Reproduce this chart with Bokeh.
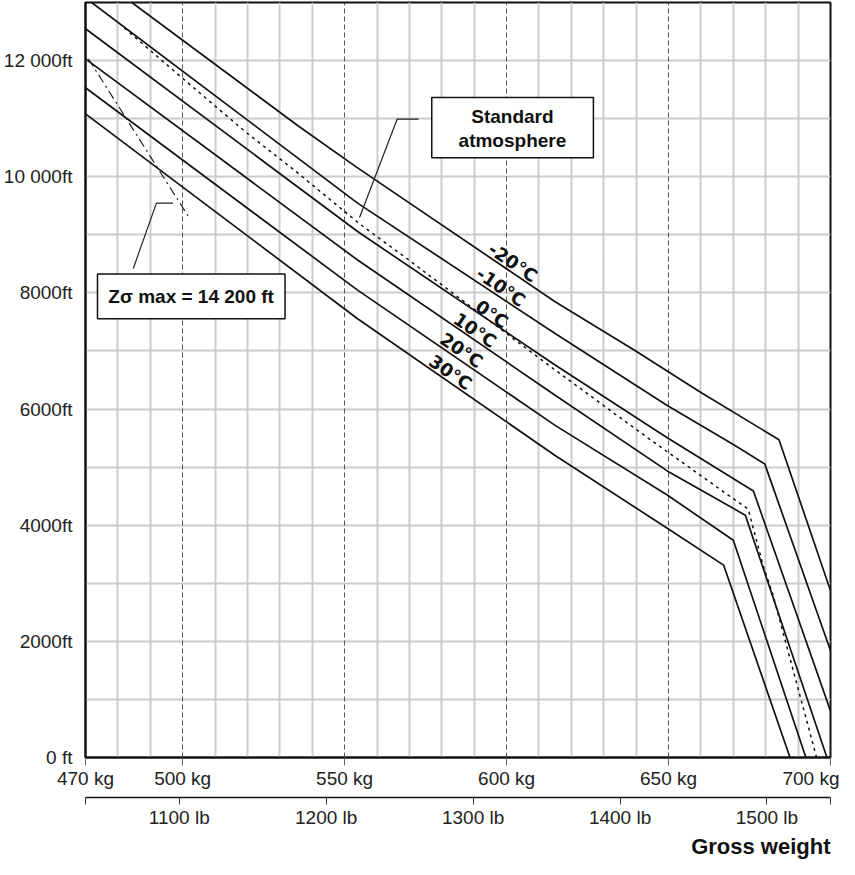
from bokeh.plotting import figure
from bokeh.models import Range1d, LinearAxis, FixedTicker, Label, BoxAnnotation, Grid, Title
from bokeh.embed import file_html
from bokeh.resources import INLINE
from bokeh.core.properties import value

# ---------------- data ----------------
kg_ticks = [470, 500, 550, 600, 650, 700]
kg_labels = ["470 kg", "500 kg", "550 kg", "600 kg", "650 kg", "700 kg"]
lb_ticks = [1100, 1200, 1300, 1400, 1500]
lb_labels = ["1100 lb", "1200 lb", "1300 lb", "1400 lb", "1500 lb"]
ft_ticks = [0, 2000, 4000, 6000, 8000, 10000, 12000]
ft_labels = ["0 ft", "2000ft", "4000ft", "6000ft", "8000ft", "10 000ft", "12 000ft"]

temps = ["-20°C", "-10°C", "0°C", "10°C", "20°C", "30°C"]
m20_kg = [484.3, 535.7, 554.0, 615.1, 639.5, 660.0, 684.1, 700.0]
m20_ft = [13000, 10874, 10152, 7844, 7013, 6286, 5472, 2874]
m10_kg = [471.9, 554.0, 615.1, 649.6, 670.0, 679.7, 700.0]
m10_ft = [13000, 9546, 7295, 6061, 5391, 5056, 1841]
z0_kg = [470.0, 554.0, 615.1, 649.6, 676.2, 700.0]
z0_ft = [12549, 9056, 6753, 5507, 4589, 802]
p10_kg = [470.0, 554.0, 615.1, 649.6, 673.7, 698.9]
p10_ft = [12029, 8566, 6234, 4935, 4173, 0]
p20_kg = [470.0, 554.0, 615.1, 649.6, 670.0, 692.4]
p20_ft = [11532, 8047, 5714, 4519, 3740, 0]
p30_kg = [470.0, 554.0, 615.1, 649.6, 667.0, 687.5]
p30_ft = [11082, 7555, 5195, 3948, 3313, 0]
std_kg = [482.0, 499.0, 519.8, 534.1, 554.9, 569.3, 587.0, 615.1, 643.5, 671.0, 674.6, 679.2, 682.3, 695.7]
std_ft = [12560, 11740, 10753, 10130, 9177, 8588, 7844, 6667, 5507, 4416, 4277, 3307, 2788, 0]
zsig_kg = [470.9, 502.1]
zsig_ft = [12029, 9287]

# temperature label anchors (kg, ft)
temp_lab_kg = [602.0, 598.3, 595.5, 590.3, 586.1, 582.7]
temp_lab_ft = [8525, 8104, 7636, 7359, 7013, 6632]

KG_PER_LB = 0.45359237

p = figure(width=839, height=859, x_range=Range1d(470, 700), y_range=Range1d(0, 13000),
           output_backend="svg", toolbar_location=None,
           min_border_left=77, min_border_right=9, min_border_top=2, min_border_bottom=100)
p.background_fill_color = "white"
p.border_fill_color = "white"
p.outline_line_color = "#111111"
p.outline_line_width = 2

# grids
light_x = [v for v in range(480, 700, 10) if v % 50 != 0]
p.xgrid.ticker = FixedTicker(ticks=light_x)
p.xgrid.grid_line_color = "#cccccc"
p.xgrid.grid_line_width = 2
p.ygrid.ticker = FixedTicker(ticks=list(range(1000, 13000, 1000)))
p.ygrid.grid_line_color = "#cccccc"
p.ygrid.grid_line_width = 2
p.add_layout(Grid(dimension=0, ticker=FixedTicker(ticks=[500, 550, 600, 650]),
                  grid_line_color="#555555", grid_line_dash="5 3", grid_line_width=1))

# y axis
ya = p.yaxis[0]
ya.ticker = FixedTicker(ticks=ft_ticks)
ya.major_label_overrides = {t: l for t, l in zip(ft_ticks, ft_labels)}
ya.major_tick_line_color = None
ya.minor_tick_line_color = None
ya.axis_line_color = "#111111"
ya.axis_line_width = 2
ya.major_label_standoff = 7
ya.major_label_text_font = "Liberation Sans"
ya.major_label_text_font_size = "19px"
ya.major_label_text_color = "#222222"

# kg axis
xa = p.xaxis[0]
xa.ticker = FixedTicker(ticks=kg_ticks)
xa.major_label_overrides = {t: l for t, l in zip(kg_ticks, kg_labels)}
xa.major_tick_out = 8
xa.major_tick_in = 0
xa.major_tick_line_color = "#666666"
xa.minor_tick_line_color = None
xa.axis_line_color = "#111111"
xa.axis_line_width = 2
xa.major_label_standoff = 2
xa.major_label_text_font = "Liberation Sans"
xa.major_label_text_font_size = "19px"
xa.major_label_text_color = "#222222"
xa.axis_label = "\u00a0"
xa.axis_label_text_font_size = "3px"
xa.axis_label_standoff = 0

# lb axis
lb_lo, lb_hi = 470 / KG_PER_LB, 700 / KG_PER_LB
p.extra_x_ranges = {"lb": Range1d(lb_lo, lb_hi)}
lba = LinearAxis(x_range_name="lb")
ends = [lb_lo + 0.05, lb_hi - 0.05]
lba.ticker = FixedTicker(ticks=[ends[0]] + lb_ticks + [ends[1]])
lov = {t: l for t, l in zip(lb_ticks, lb_labels)}
lov[ends[0]] = ""
lov[ends[1]] = ""
lba.major_label_overrides = lov
lba.major_tick_out = 7
lba.major_tick_in = 0
lba.major_tick_line_color = "#333333"
lba.minor_tick_line_color = None
lba.axis_line_color = "#111111"
lba.axis_line_width = 1.5
lba.major_label_standoff = 2
lba.major_label_text_font = "Liberation Sans"
lba.major_label_text_font_size = "19px"
lba.major_label_text_color = "#222222"
p.add_layout(lba, "below")

p.add_layout(Title(text="Gross weight", align="right", text_font="Liberation Sans",
                   text_font_size="22px", text_font_style="bold", text_color="#111111",
                   standoff=2), "below")

# curves
for xs, ys in [(m20_kg, m20_ft), (m10_kg, m10_ft), (z0_kg, z0_ft),
               (p10_kg, p10_ft), (p20_kg, p20_ft), (p30_kg, p30_ft)]:
    p.line(xs, ys, line_color="#111111", line_width=1.7)
p.line(std_kg, std_ft, line_color="#111111", line_width=1.5, line_dash="3 4")
p.line(zsig_kg, zsig_ft, line_color="#222222", line_width=1.2, line_dash="9 4 2 4")

p.text(x=temp_lab_kg, y=temp_lab_ft, text=temps, angle=-0.6,
       text_font=value("DejaVu Sans"), text_font_style="bold", text_font_size="18px",
       text_align="center", text_baseline="middle", text_color="#111111")

# leaders
p.line([572.8, 566.2, 554.6], [10991, 10991, 9299], line_color="#222222", line_width=1.2)
p.line([484.75, 491.9, 497.0], [8421, 9546, 9546], line_color="#222222", line_width=1.2)

# boxes
p.add_layout(BoxAnnotation(left=576.9, right=626.8, bottom=10326, top=11365,
                           fill_color="white", fill_alpha=1, line_color="#111111",
                           line_width=1.5, line_alpha=1))
p.add_layout(BoxAnnotation(left=473.7, right=531.6, bottom=7555, top=8324,
                           fill_color="white", fill_alpha=1, line_color="#111111",
                           line_width=1.5, line_alpha=1))

def lab(x, y, t, size="19px", style="bold", align="center"):
    p.add_layout(Label(x=x, y=y, text=t, text_align=align, text_baseline="middle",
                       text_font="Liberation Sans", text_font_size=size,
                       text_font_style=style, text_color="#111111"))

lab(601.8, 11034, "Standard")
lab(601.8, 10632, "atmosphere")
lab(502.6, 7943, "Zσ max = 14 200 ft")

open("out.html", "w").write(file_html(p, INLINE))
